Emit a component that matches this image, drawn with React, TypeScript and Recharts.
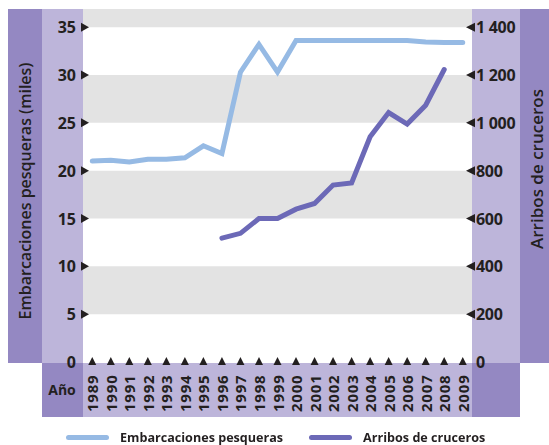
import React from "react";
import {
  ComposedChart, Line, XAxis, YAxis, ReferenceArea,
} from "recharts";

const YEARS = [
  "1989","1990","1991","1992","1993","1994","1995","1996","1997","1998","1999",
  "2000","2001","2002","2003","2004","2005","2006","2007","2008","2009",
];
// Embarcaciones pesqueras (miles)
const FISHING = [
  21.0, 21.1, 20.9, 21.2, 21.2, 21.35, 22.6, 21.8, 30.3, 33.2, 30.3,
  33.6, 33.6, 33.6, 33.6, 33.6, 33.6, 33.6, 33.45, 33.4, 33.4,
];
// Arribos de cruceros
const CRUISES = [
  null, null, null, null, null, null, null, 518, 538, 600, 600,
  639, 663, 740, 749, 942, 1043, 995, 1074, 1223, null,
];
const LEFT_TICKS = [0, 5, 10, 15, 20, 25, 30, 35];
const RIGHT_TICKS = [0, 200, 400, 600, 800, 1000, 1200, 1400];

const W = 549;
const H = 445;
const FONT = "'Open Sans', sans-serif";
const TXT = "#231f20";
const DARK = "#9488c2";
const LIGHT = "#bdb5da";
const STRIPE = "#e3e3e3";
const C_FISH = "#96bae4";
const C_CRUISE = "#6c69b7";

const SERIES = [
  { key: "fishing", name: "Embarcaciones pesqueras", color: C_FISH, axis: "left" },
  { key: "cruises", name: "Arribos de cruceros", color: C_CRUISE, axis: "right" },
];

const data = YEARS.map((y, i) => ({ year: y, fishing: FISHING[i], cruises: CRUISES[i] }));

// gray stripes every other interval, plus the top strip above 35
const stripes = [[5, 10], [15, 20], [25, 30], [35, 36.9]];

const fmt = (v: number) => (v >= 1000 ? `${Math.floor(v / 1000)} ${String(v % 1000).padStart(3, "0")}` : String(v));

const LeftTick = (props: any) => {
  const { x, y, payload } = props;
  return (
    <g>
      <text x={x - 7} y={y} textAnchor="end" dominantBaseline="central"
        fontFamily={FONT} fontWeight={700} fontSize={16} fill={TXT}>{payload.value}</text>
      {payload.value !== 0 && <path d={`M${x - 2},${y - 4.5} L${x + 6},${y} L${x - 2},${y + 4.5} Z`} fill={TXT} />}
    </g>
  );
};

const RightTick = (props: any) => {
  const { x, y, payload } = props;
  const zero = payload.value === 0;
  return (
    <g>
      {!zero && <path d={`M${x + 3},${y - 4.5} L${x - 6},${y} L${x + 3},${y + 4.5} Z`} fill={TXT} />}
      <text x={x + 4} y={y} textAnchor="start" dominantBaseline="central"
        fontFamily={FONT} fontWeight={700} fontSize={16} letterSpacing={-0.3} fill={TXT}>{fmt(payload.value)}</text>
    </g>
  );
};

const YearTick = (props: any) => {
  const { x, y, payload } = props;
  return (
    <g>
      <path d={`M${x - 4},${y + 3} L${x},${y - 5} L${x + 4},${y + 3} Z`} fill={TXT} />
      <text x={x} y={y + 50} transform={`rotate(-90 ${x} ${y + 50})`} textAnchor="start"
        dominantBaseline="central" fontFamily={FONT} fontWeight={700} fontSize={15}
        letterSpacing={0.8} fill={TXT}>{payload.value}</text>
    </g>
  );
};

const band = (left: number, top: number, width: number, height: number, bg: string) => (
  <div style={{ position: "absolute", left, top, width, height, background: bg }} />
);

export default function App() {
  return (
    <div style={{ position: "fixed", left: 0, top: 0, width: W, height: H, background: "#fff" }}>
      {band(8, 9, 34, 354, DARK)}
      {band(42, 9, 41, 354, LIGHT)}
      {band(472, 9, 48, 354, LIGHT)}
      {band(520, 9, 29, 354, DARK)}
      {band(42, 363, 41, 54, DARK)}
      {band(83, 363, 389, 54, LIGHT)}
      {band(472, 363, 48, 54, DARK)}
      <div style={{
        position: "absolute", left: 25, top: 191, transform: "translate(-50%, -50%) rotate(-90deg)",
        whiteSpace: "nowrap", fontFamily: FONT, fontWeight: 600, fontSize: 16, color: TXT,
      }}>Embarcaciones pesqueras (miles)</div>
      <div style={{
        position: "absolute", left: 536, top: 169, transform: "translate(-50%, -50%) rotate(-90deg)",
        whiteSpace: "nowrap", fontFamily: FONT, fontWeight: 600, fontSize: 17, color: TXT,
      }}>Arribos de cruceros</div>
      <div style={{
        position: "absolute", left: 62, top: 389, transform: "translate(-50%, -50%)",
        fontFamily: FONT, fontWeight: 700, fontSize: 14, color: TXT,
      }}>Año</div>
      <div style={{ position: "absolute", left: 0, top: 0 }}>
        <ComposedChart width={W} height={H} data={data} margin={{ top: 9, right: 0, bottom: 0, left: 0 }}>
          {stripes.map(([a, b]) => (
            <ReferenceArea key={a} yAxisId="left" y1={a} y2={b} fill={STRIPE} fillOpacity={1} stroke="none" ifOverflow="visible" />
          ))}
          <XAxis dataKey="year" interval={0} height={83} axisLine={false} tickLine={false}
            tickSize={0} tickMargin={0} scale="band" tick={<YearTick />} />
          <YAxis yAxisId="left" orientation="left" width={83} domain={[0, 36.9]} ticks={LEFT_TICKS}
            axisLine={false} tickLine={false} tickSize={0} tickMargin={0} tick={<LeftTick />} interval={0} />
          <YAxis yAxisId="right" orientation="right" width={77} domain={[0, 1476]} ticks={RIGHT_TICKS}
            axisLine={false} tickLine={false} tickSize={0} tickMargin={0} tick={<RightTick />} interval={0} />
          {SERIES.map((s) => (
            <Line key={s.key} yAxisId={s.axis} dataKey={s.key} name={s.name} stroke={s.color}
              strokeWidth={5} dot={false} isAnimationActive={false} strokeLinecap="round" strokeLinejoin="miter" />
          ))}
        </ComposedChart>
      </div>
      <div style={{
        position: "absolute", left: 0, top: 428, height: 18, display: "flex", alignItems: "center",
        fontFamily: FONT, fontWeight: 700, fontSize: 12.6, color: TXT,
      }}>
        {SERIES.map((s, i) => (
          <div key={s.key} style={{ display: "flex", alignItems: "center", marginLeft: i === 0 ? 66 : 26 }}>
            <span style={{ width: 43, height: 5, borderRadius: 3, background: s.color, marginRight: 11 }} />
            <span>{s.name}</span>
          </div>
        ))}
      </div>
    </div>
  );
}
